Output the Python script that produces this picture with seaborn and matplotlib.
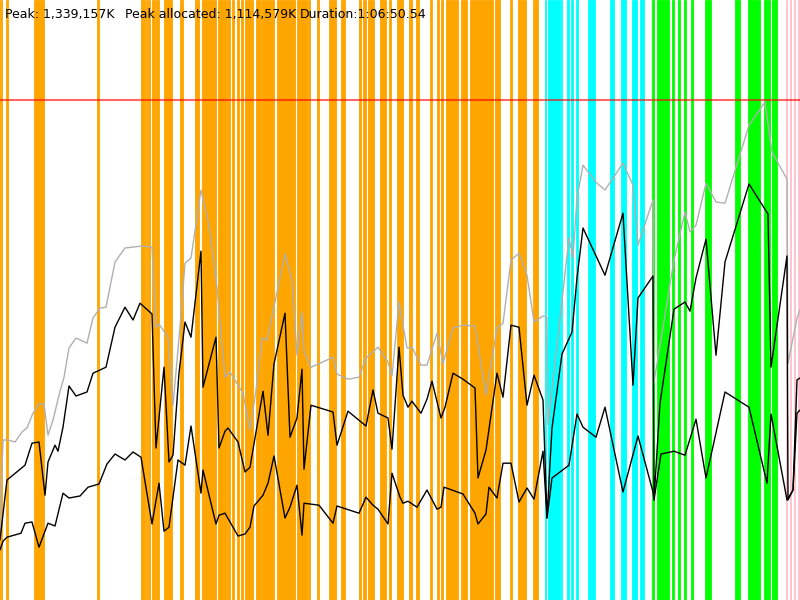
import numpy as np
import pandas as pd
import seaborn as sns
import matplotlib.pyplot as plt


# ==================== Data ====================

# time in seconds, memory in MB
peak_t = [0, 15, 40, 75, 110, 135, 165, 195, 220, 240, 265, 295, 320, 345, 380, 435, 465, 500,
          530, 575, 625, 710, 760, 780, 795, 840, 865, 900, 925, 955, 1005, 1045, 1085, 1125,
          1150, 1215, 1250, 1280, 1310, 1335, 1425, 1460, 1485, 1510, 1520, 1555, 1600, 1665,
          1685, 1740, 1795, 1830, 1890, 1940, 1960, 1995, 2035, 2060, 2105, 2135, 2185, 2215,
          2265, 2315, 2375, 2430, 2485, 2515, 2555, 2595, 2635, 2670, 2715, 2735, 2740, 2845,
          2865, 2885, 2915, 2985, 3025, 3115, 3165, 3190, 3265, 3270, 3370, 3425, 3450, 3480,
          3530, 3580, 3625, 3745, 3825, 3860, 3935, 3940, 3985, 4000]
peak_mb = [175, 400, 400, 395, 420, 430, 467, 490, 490, 412, 450, 512, 557, 630, 655, 642, 705,
           730, 732, 845, 880, 885, 882, 682, 690, 657, 487, 682, 842, 855, 1025, 937, 782, 557,
           570, 517, 425, 525, 655, 650, 865, 800, 612, 720, 620, 582, 592, 607, 565, 552, 557,
           605, 632, 595, 560, 745, 630, 632, 587, 587, 667, 592, 680, 687, 685, 512, 680, 692,
           850, 867, 812, 695, 710, 707, 437, 905, 857, 1005, 1087, 1042, 1025, 1092, 1037, 887,
           1000, 545, 850, 970, 920, 937, 1042, 995, 992, 1187, 1245, 1120, 1052, 592, 705, 725]

alloc_t = [0, 35, 125, 160, 195, 225, 240, 275, 290, 315, 345, 380, 435, 465, 530, 575, 625,
           665, 700, 760, 780, 820, 845, 865, 895, 925, 955, 1005, 1015, 1080, 1095, 1125, 1140,
           1190, 1225, 1250, 1315, 1340, 1370, 1425, 1450, 1485, 1510, 1520, 1555, 1600, 1665,
           1685, 1740, 1830, 1865, 1890, 1940, 1960, 1995, 2015, 2040, 2060, 2105, 2135, 2160,
           2205, 2225, 2265, 2315, 2375, 2390, 2430, 2485, 2515, 2555, 2595, 2635, 2670, 2715,
           2735, 2760, 2810, 2860, 2885, 2915, 3025, 3115, 3165, 3190, 3265, 3270, 3300, 3370,
           3425, 3450, 3480, 3530, 3580, 3625, 3745, 3840, 3855, 3935, 3940, 3965, 3985, 4000]
alloc_mb = [150, 300, 337, 392, 395, 262, 345, 387, 372, 432, 535, 510, 520, 567, 582, 682, 732,
            700, 742, 715, 380, 582, 345, 362, 567, 695, 657, 872, 532, 657, 380, 422, 430, 395,
            320, 332, 522, 412, 590, 717, 407, 455, 577, 327, 487, 480, 470, 387, 472, 435, 525,
            467, 455, 377, 632, 512, 482, 497, 467, 502, 547, 455, 482, 567, 552, 530, 305, 375,
            567, 507, 687, 682, 487, 562, 500, 205, 430, 615, 670, 805, 930, 812, 967, 537, 755,
            810, 250, 492, 727, 745, 722, 805, 902, 612, 845, 1040, 965, 582, 860, 250, 275, 550,
            555]

used_t = [0, 15, 35, 105, 125, 160, 195, 240, 275, 315, 345, 400, 440, 495, 535, 575, 625, 665,
          705, 760, 795, 820, 845, 890, 925, 955, 1005, 1015, 1080, 1095, 1125, 1190, 1225, 1250,
          1270, 1315, 1340, 1370, 1425, 1450, 1485, 1510, 1520, 1595, 1665, 1685, 1795, 1830,
          1865, 1890, 1940, 1960, 2000, 2015, 2040, 2085, 2135, 2185, 2205, 2220, 2315, 2375,
          2390, 2430, 2445, 2485, 2515, 2555, 2595, 2635, 2670, 2715, 2735, 2760, 2845, 2885,
          2915, 2980, 3025, 3115, 3190, 3265, 3270, 3305, 3370, 3425, 3480, 3530, 3625, 3745,
          3835, 3855, 3935, 3965, 3985, 4000]
used_mb = [125, 147, 157, 167, 192, 195, 132, 192, 185, 267, 255, 260, 282, 290, 340, 365, 350,
           370, 357, 190, 292, 172, 182, 350, 337, 435, 267, 325, 190, 212, 217, 160, 165, 182,
           235, 262, 292, 360, 205, 232, 287, 162, 242, 237, 192, 235, 217, 257, 237, 227, 190,
           317, 257, 242, 247, 232, 275, 227, 232, 282, 265, 217, 190, 215, 282, 255, 342, 342,
           245, 280, 252, 372, 205, 305, 337, 465, 432, 407, 482, 270, 410, 270, 250, 365, 372,
           362, 452, 305, 520, 482, 292, 465, 250, 275, 467, 475]

max_heap_mb = 1250

# gc events: start, end (s) and kind
gc_start = [0, 30, 170, 485, 705, 730, 740, 760, 780, 820, 900, 975, 1010, 1090, 1140, 1160,
            1185, 1205, 1225, 1280, 1310, 1385, 1485, 1540, 1585, 1645, 1705, 1795, 1815, 1840,
            1900, 1945, 1985, 2045, 2080, 2150, 2185, 2205, 2230, 2305, 2350, 2445, 2475, 2550,
            2590, 2665,
            2725, 2740, 2805, 2835, 2855, 2880, 2940, 3050, 3105, 3160, 3200,
            3260, 3285, 3360, 3390, 3420, 3455, 3525, 3675, 3740, 3820, 3860,
            3930, 3948, 3968, 3990]
gc_end = [10, 40, 220, 495, 725, 735, 750, 775, 795, 860, 915, 995, 1080, 1135, 1150, 1170,
          1195, 1215, 1265, 1305, 1370, 1475, 1535, 1550, 1595, 1680, 1725, 1805, 1830, 1870,
          1930, 1955, 2015, 2060, 2095, 2160, 2195, 2215, 2290, 2335, 2445, 2465, 2500, 2560,
          2630, 2690,
          2730, 2800, 2810, 2845, 2865, 2890, 2975, 3070, 3130, 3185, 3220,
          3270, 3345, 3370, 3400, 3430, 3465, 3555, 3700, 3800, 3850, 3885,
          3937, 3955, 3975, 4000]
gc_kind = ["young"] * 46 + ["mixed"] * 11 + ["full"] * 11 + ["other"] * 4

kind_colors = {"young": "#FFA500", "mixed": "#00FFFF", "full": "#00FF00", "other": "#FFC0CB"}

summary_labels = ["Peak: 1,339,157K", "Peak allocated: 1,114,579K", "Duration:1:06:50.54"]
summary_x = [0.006, 0.156, 0.375]


# ==================== Plot ====================

sns.set_style("white")

fig = plt.figure(figsize=(8, 6), dpi=100)
ax = fig.add_axes([0, 0, 1, 1])

for s, e, k in zip(gc_start, gc_end, gc_kind):
    ax.axvspan(s, e, facecolor=kind_colors[k], edgecolor=kind_colors[k], lw=0.6, zorder=1)

ax.axhline(max_heap_mb, color="red", alpha=0.6, lw=1.5, zorder=2)

peak_df = pd.DataFrame({"t": peak_t, "mb": peak_mb})
alloc_df = pd.DataFrame({"t": alloc_t, "mb": alloc_mb})
used_df = pd.DataFrame({"t": used_t, "mb": used_mb})

sns.lineplot(peak_df, x="t", y="mb", color="#B0B0B0", lw=1, estimator=None, sort=False, ax=ax, zorder=3)
sns.lineplot(alloc_df, x="t", y="mb", color="black", lw=1, estimator=None, sort=False, ax=ax, zorder=4)
sns.lineplot(used_df, x="t", y="mb", color="black", lw=1, estimator=None, sort=False, ax=ax, zorder=4)

ax.set_xlim(0, 4000)
ax.set_ylim(0, 1500)
ax.axis("off")

for label, x in zip(summary_labels, summary_x):
    ax.text(x, 0.986, label, transform=ax.transAxes, ha="left", va="top",
            fontsize=9, color="black", zorder=5)

fig.savefig("out.png", dpi=100)
